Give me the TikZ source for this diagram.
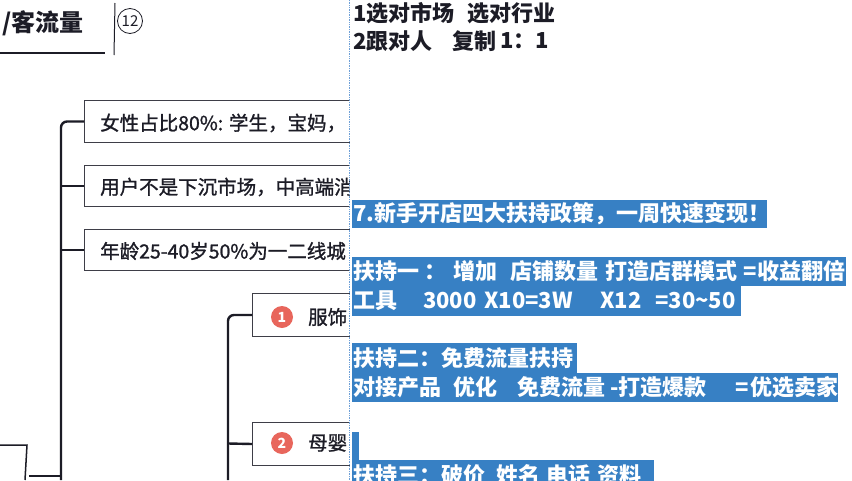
\documentclass[tikz,border=0pt]{standalone}
\usepackage{fontspec}
\setmainfont{Noto Sans CJK SC}
\newfontfamily\medfont{Noto Sans CJK SC}[FakeBold=1.2]
\definecolor{hl}{RGB}{55,128,196}
\definecolor{ink}{RGB}{28,28,38}
\definecolor{redc}{RGB}{232,102,92}
\definecolor{divc}{RGB}{110,160,215}
\newcommand{\T}[1]{\vphantom{国}#1}
\begin{document}
\begin{tikzpicture}[x=1pt,y=-1pt,
  conn/.style={draw=ink,line width=2.4pt,rounded corners=6pt},
  mbox/.style={draw=ink!85,line width=1pt,fill=white,anchor=north west,minimum height=42pt,inner sep=0pt},
  boxtxt/.style={anchor=west,inner sep=0pt,font=\medfont\fontsize{19.5}{24}\selectfont,text=ink},
  ptxt/.style={anchor=west,inner sep=0pt,font=\fontsize{22}{26}\selectfont\bfseries,text=ink},
  hltxt/.style={ptxt,text=white},
  hlbar/.style={fill=hl,draw=none},
  numc/.style={circle,fill=redc,minimum size=22pt,inner sep=0pt,text=white,font=\fontsize{14}{14}\selectfont\bfseries}
]
\useasboundingbox (0,0) rectangle (852,480);
\fill[white] (0,0) rectangle (852,480);

% ---- left mind map ----
\node[anchor=west,inner sep=0pt,font=\fontsize{24}{28}\selectfont\bfseries,text=ink] (title) at (2,23) {\T{/客流量}};
\coordinate (ul0) at (0,53);
\coordinate (ul1) at (105,53);
\draw[ink,line width=1.5pt] (ul0) -- (ul1);
\coordinate (vl0) at (115,3);
\coordinate (vl1) at (114,55);
\draw[ink,line width=1pt] (vl0) -- (vl1);
\node[circle,draw=ink,line width=0.8pt,minimum size=25pt,inner sep=0pt,font=\fontsize{15}{15}\selectfont,text=ink] (n12) at (130,21) {12};

\node[mbox,minimum width=300pt] (b1) at (84,100) {};
\node[mbox,minimum width=300pt,minimum height=41pt] (b2) at (84,165) {};
\node[mbox,minimum width=300pt,minimum height=41pt] (b3) at (84,229) {};
\node[mbox,minimum width=150pt,minimum height=43pt] (b4) at (252,293) {};
\node[mbox,minimum width=150pt,minimum height=43pt] (b5) at (252,422) {};

\node[boxtxt] (t1) at (100,123) {\T{女性占比80\%: 学生，宝妈，}};
\node[boxtxt] (t2) at (100,187) {\T{用户不是下沉市场，中高端消}};
\node[boxtxt] (t3) at (100,251) {\T{年龄25-40岁50\%为一二线城}};
\node[numc] (c1) at (282,317) {1};
\node[boxtxt] (t4) at (308,317) {\T{服饰}};
\node[numc] (c2) at (282,443) {2};
\node[boxtxt] (t5) at (308,443) {\T{母婴}};

\coordinate (s1) at (61,480);
\coordinate (s2) at (61,186);
\coordinate (s3) at (61,250);
\coordinate (s0) at (61,476);
\coordinate (p0) at (29,476);
\draw[conn] (s1) |- (b1.west);
\draw[conn] (s2) -- (b2.west);
\draw[conn] (s3) -- (b3.west);
\draw[conn] (p0) -- (s0);
\coordinate (s4) at (228,480);
\coordinate (s5) at (228,443.5);
\draw[conn] (s4) |- (b4.west);
\draw[conn] (s5) -- (b5.west);
\coordinate (q0) at (0,445);
\coordinate (q1) at (27,445);
\coordinate (q2) at (25,480);
\draw[ink,line width=1.5pt] (q0) -- (q1) -- (q2);

% ---- right panel ----
\fill[white] (350,0) rectangle (852,480);
\coordinate (d0) at (349,0);
\coordinate (d1) at (349,480);
\draw[divc,densely dotted,line width=0.7pt] (d0) -- (d1);

\node[ptxt] (r1a) at (353,13) {\T{1选对市场}};
\node[ptxt] (r1b) at (467,13) {\T{选对行业}};
\node[ptxt] (r2a) at (353,41) {\T{2跟对人}};
\node[ptxt] (r2b) at (452,41) {\T{复制}};
\node[ptxt] (r2c) at (500,41) {\T{1：1}};

\fill[hlbar] (352,200) rectangle (767,228);
\fill[hlbar] (352,257) rectangle (846,286);
\fill[hlbar] (352,286) rectangle (741,316);
\fill[hlbar] (352,343) rectangle (577,373);
\fill[hlbar] (352,373) rectangle (838,402);
\fill[hlbar] (352,432) rectangle (359,460);
\fill[hlbar] (352,460) rectangle (654,490);

\node[hltxt] (h1) at (353,214) {\T{7.新手开店四大扶持政策，一周快速变现！}};

\node[hltxt] (h2a) at (353,271.5) {\T{扶持一}};
\node[hltxt] (h2b) at (424,271.5) {\T{：}};
\node[hltxt] (h2c) at (453,271.5) {\T{增加}};
\node[hltxt] (h2d) at (510,271.5) {\T{店铺数量}};
\node[hltxt] (h2e) at (605,271.5) {\T{打造店群模式}};
\node[hltxt] (h2f) at (743,271.5) {\T{=}};
\node[hltxt] (h2g) at (757,271.5) {\T{收益翻倍}};

\node[hltxt] (h3a) at (353,301) {\T{工具}};
\node[hltxt] (h3b) at (423,301) {\T{3000}};
\node[hltxt] (h3c) at (484,301) {\T{X10=3W}};
\node[hltxt] (h3d) at (600,301) {\T{X12}};
\node[hltxt] (h3e) at (655,301) {\T{=30\textasciitilde 50}};

\node[hltxt] (h4) at (353,358) {\T{扶持二：免费流量扶持}};

\node[hltxt] (h5a) at (353,387.5) {\T{对接产品}};
\node[hltxt] (h5b) at (453,387.5) {\T{优化}};
\node[hltxt] (h5c) at (517,387.5) {\T{免费流量}};
\node[hltxt] (h5d) at (610,387.5) {\T{-打造爆款}};
\node[hltxt] (h5e) at (735,387.5) {\T{=}};
\node[hltxt] (h5f) at (750,387.5) {\T{优选卖家}};

\node[hltxt] (h7a) at (353,475) {\T{扶持三：破价}};
\node[hltxt] (h7b) at (496,475) {\T{姓名}};
\node[hltxt] (h7c) at (546,475) {\T{电话}};
\node[hltxt] (h7d) at (597,475) {\T{资料}};
\end{tikzpicture}
\end{document}
